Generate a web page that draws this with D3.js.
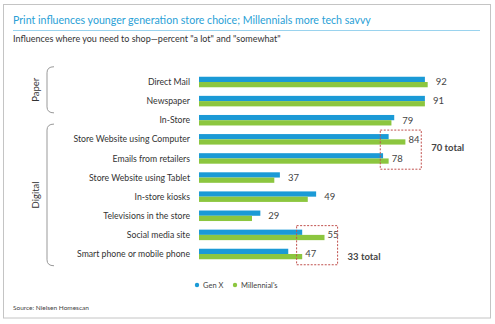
<!DOCTYPE html>
<html>
<head>
<meta charset="utf-8">
<script src="https://cdn.jsdelivr.net/npm/d3@7"></script>
<style>
  body { margin: 0; background: #fff; }
  svg { display: block; font-family: Lato, "Open Sans", sans-serif; }
</style>
</head>
<body>
<svg id="chart" width="495" height="324"></svg>
<script>
// influences where people shop, percent answering "a lot" or "somewhat"
var categories = ["Direct Mail", "Newspaper", "In-Store", "Store Website using Computer",
    "Emails from retailers", "Store Website using Tablet", "In-store kiosks",
    "Televisions in the store", "Social media site", "Smart phone or mobile phone"];
var genX = [91, 91, 80, 78, 76, 39, 52, 32, 47, 42];
var millennials = [92, 91, 79, 84, 78, 37, 49, 29, 55, 47];
var seriesNames = ["Gen X", "Millennial's"];

// bracket groups down the left side
var groups = [
    { name: "Paper", first: "Direct Mail", last: "Newspaper" },
    { name: "Digital", first: "Store Website using Computer", last: "Smart phone or mobile phone" }
];

// dashed callouts with combined totals
var callouts = [
    { first: "Store Website using Computer", last: "Emails from retailers", from: 75, to: 89.7, total: "70 total", labelAt: 0.45 },
    { first: "Social media site", last: "Smart phone or mobile phone", from: 45, to: 59.7, total: "33 total", labelAt: 0.8 }
];

var blue = "#1b9ad6", green = "#8cc63f";

var svg = d3.select("#chart");

// outer frame
svg.append("rect")
    .attr("x", 3.5).attr("y", 4.5)
    .attr("width", 487).attr("height", 313.5)
    .attr("fill", "none")
    .attr("stroke", "#c4c4c4");

// title + rule + subtitle
svg.append("text")
    .attr("x", 13).attr("y", 24)
    .attr("font-size", 10.6)
    .attr("fill", "#2a9fd6")
    .text("Print influences younger generation store choice; Millennials more tech savvy");

svg.append("line")
    .attr("x1", 13).attr("x2", 480)
    .attr("y1", 30.5).attr("y2", 30.5)
    .attr("stroke", "#9ad3ee").attr("stroke-width", 1.2);

svg.append("text")
    .attr("x", 13).attr("y", 42)
    .attr("font-size", 9)
    .attr("fill", "#333")
    .text("Influences where you need to shop\u2014percent \"a lot\" and \"somewhat\"");

// scales: the value axis does not start at zero
var x = d3.scaleLinear().domain([10, 100]).range([199, 450]);
var y = d3.scaleBand().domain(categories).range([68.15, 267.85]).padding(0.45);
var half = y.bandwidth() / 2;

// rows that sit inside a callout box get their value label tucked in tight
var boxed = new Set();
callouts.forEach(function(c) {
    var a = categories.indexOf(c.first), b = categories.indexOf(c.last);
    for (var k = a; k <= b; k++) boxed.add(categories[k]);
});

var rows = svg.append("g")
    .selectAll("g")
    .data(categories)
    .enter()
    .append("g")
    .attr("transform", d => "translate(0," + y(d) + ")");

rows.append("rect")
    .attr("x", x(10))
    .attr("y", 0)
    .attr("height", half)
    .attr("width", (d, i) => x(genX[i]) - x(10))
    .attr("fill", blue);

rows.append("rect")
    .attr("x", x(10))
    .attr("y", half)
    .attr("height", half)
    .attr("width", (d, i) => x(millennials[i]) - x(10))
    .attr("fill", green);

// category names
rows.append("text")
    .attr("x", 190)
    .attr("y", y.bandwidth() / 2)
    .attr("dy", "0.35em")
    .attr("text-anchor", "end")
    .attr("font-size", 8.7)
    .attr("fill", "#333")
    .text(d => d);

// millennial values at the end of each pair
rows.append("text")
    .attr("x", (d, i) => x(Math.max(genX[i], millennials[i])) + (boxed.has(d) ? 3 : 8))
    .attr("y", y.bandwidth() / 2)
    .attr("dy", "0.35em")
    .attr("font-size", 9.5)
    .attr("fill", "#444")
    .text((d, i) => millennials[i]);

// curly brackets for Paper / Digital
groups.forEach(function(g) {
    var top = y(g.first) - 10;
    var bottom = y(g.last) + y.bandwidth() + 6.5;
    var bx = 47, hook = 54;
    var path = d3.path();
    path.moveTo(hook, top);
    path.quadraticCurveTo(bx, top, bx, top + 6);
    path.lineTo(bx, bottom - 6);
    path.quadraticCurveTo(bx, bottom, hook, bottom);
    svg.append("path")
        .attr("d", path.toString())
        .attr("fill", "none")
        .attr("stroke", "#999")
        .attr("stroke-width", 1);

    var cy = (top + bottom) / 2;
    svg.append("text")
        .attr("transform", "translate(39," + cy + ") rotate(-90)")
        .attr("text-anchor", "middle")
        .attr("font-size", 9.5)
        .attr("fill", "#333")
        .text(g.name);
});

// dashed boxes with totals
callouts.forEach(function(c) {
    var top = y(c.first) - 4;
    var bottom = y(c.last) + y.bandwidth() + 5.5;
    svg.append("rect")
        .attr("x", x(c.from)).attr("y", top)
        .attr("width", x(c.to) - x(c.from))
        .attr("height", bottom - top)
        .attr("fill", "none")
        .attr("stroke", "#c0504d")
        .attr("stroke-width", 1)
        .attr("stroke-dasharray", "2,1.5");
    svg.append("text")
        .attr("x", x(c.to) + 10)
        .attr("y", top + (bottom - top) * c.labelAt)
        .attr("dy", "0.35em")
        .attr("font-size", 9.5)
        .attr("font-weight", "bold")
        .attr("fill", "#444")
        .text(c.total);
});

// legend
var legend = svg.append("g").attr("transform", "translate(197,285)");
var legendX = [0, 38];
seriesNames.forEach(function(name, i) {
    legend.append("circle")
        .attr("cx", legendX[i]).attr("cy", 0).attr("r", 2.2)
        .attr("fill", i === 0 ? blue : green);
    legend.append("text")
        .attr("x", legendX[i] + 6).attr("y", 0)
        .attr("dy", "0.35em")
        .attr("font-size", 7.5)
        .attr("fill", "#444")
        .text(name);
});

svg.append("text")
    .attr("x", 13).attr("y", 308)
    .attr("dy", "0.35em")
    .attr("font-size", 6.5)
    .attr("fill", "#444")
    .text("Source: Nielsen Homescan");
</script>
</body>
</html>
